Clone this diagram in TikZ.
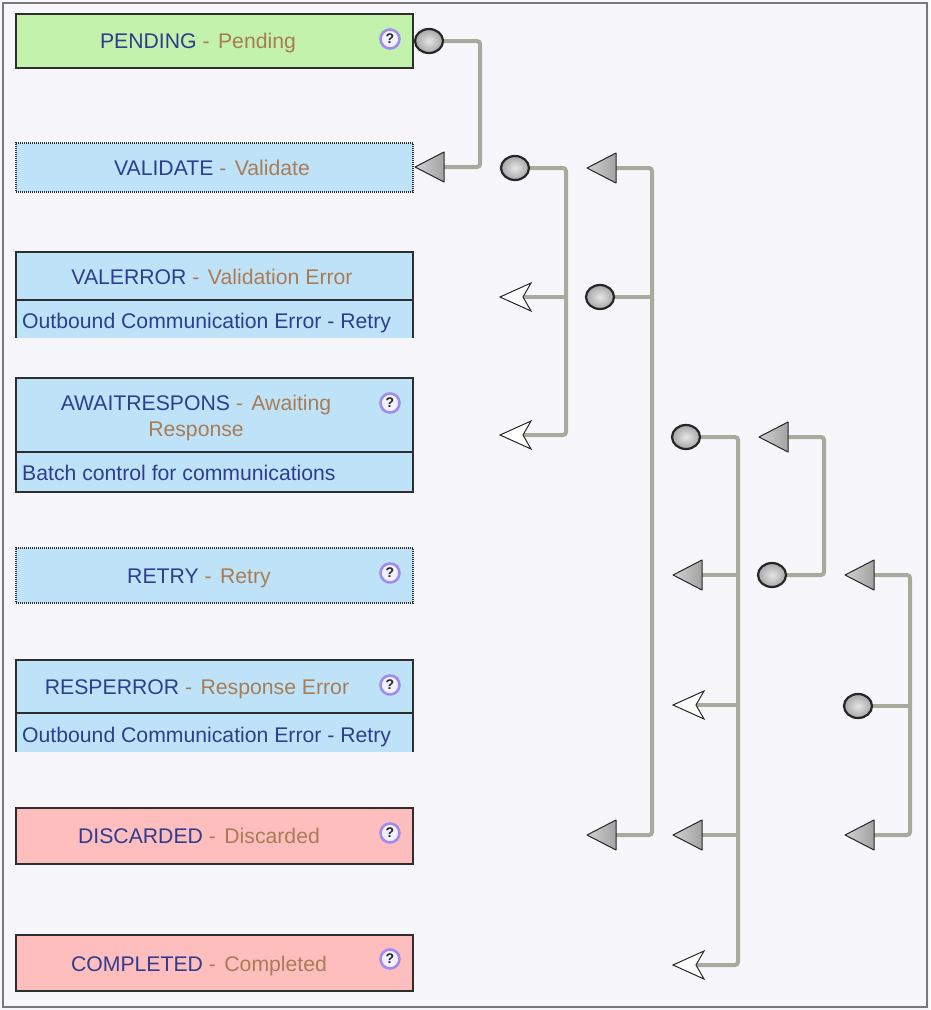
\documentclass[tikz,border=0pt]{standalone}
\usepackage{fontspec}
\setmainfont{Liberation Sans}
\usetikzlibrary{shapes.geometric}
\definecolor{bgc}{HTML}{F7F7FB}
\definecolor{framec}{HTML}{787878}
\definecolor{greenf}{HTML}{C2F2AC}
\definecolor{bluef}{HTML}{BEE3F8}
\definecolor{pinkf}{HTML}{FFBEBE}
\definecolor{boxline}{HTML}{2E2E2E}
\definecolor{idc}{HTML}{2E3D8F}
\definecolor{namec}{HTML}{A97C55}
\definecolor{connc}{HTML}{A9A99C}
\definecolor{helpc}{HTML}{A08CF0}
\definecolor{helpf}{HTML}{F4F1FF}
\definecolor{mkline}{HTML}{262626}
\pgfdeclarelayer{bg}
\pgfdeclarelayer{lines}
\pgfsetlayers{bg,lines,main}
\newcommand{\stname}[2]{{\color{idc}#1} {\color{namec}-\hspace{8.5pt}#2}}
\tikzset{
  hdr/.style={rectangle, minimum width=397pt, inner sep=0pt, draw=boxline, line width=2.2pt},
  dotbox/.style={rectangle, minimum width=397pt, inner sep=0pt, draw=boxline, line width=1.2pt, dash pattern=on 1pt off 1pt},
  rowbox/.style={rectangle, minimum width=397pt, inner sep=0pt},
  boxside/.style={draw=boxline, line width=2.2pt},
  txt/.style={inner sep=0pt, anchor=base, font=\fontsize{21.2}{26}\selectfont},
  dtxt/.style={inner sep=0pt, anchor=base west, text=idc, font=\fontsize{21.2}{26}\selectfont},
  helpicon/.style={circle, minimum size=19pt, inner sep=0pt, draw=helpc, line width=2.6pt, fill=helpf, text=black!85, font=\bfseries\fontsize{14}{14}\selectfont},
  conn/.style={draw=connc, line width=4pt, rounded corners=3pt},
  srcmk/.style={ellipse, minimum width=28pt, minimum height=24pt, inner sep=0pt, draw=mkline, line width=2.2pt, inner color=gray!20, outer color=gray!70},
  tgtmk/.style={rectangle, minimum width=32pt, minimum height=32pt, inner sep=0pt,
    path picture={\shadedraw[left color=gray!35, right color=gray!75, draw=mkline, line width=1pt, line join=round]
      ([xshift=-15pt]path picture bounding box.center) -- ([xshift=14pt,yshift=15pt]path picture bounding box.center) -- ([xshift=14pt,yshift=-15pt]path picture bounding box.center) -- cycle;}},
  openmk/.style={rectangle, minimum width=34pt, minimum height=32pt, inner sep=0pt,
    path picture={\filldraw[fill=white, draw=mkline, line width=1pt, line join=miter]
      ([xshift=-16pt]path picture bounding box.center) -- ([xshift=15pt,yshift=14pt]path picture bounding box.center) -- ([xshift=7pt]path picture bounding box.center) -- ([xshift=15pt,yshift=-14pt]path picture bounding box.center) -- cycle;}}
}
\begin{document}
\begin{tikzpicture}[x=1pt,y=-1pt]
\useasboundingbox (0,0) rectangle (930,1010);
\begin{pgfonlayer}{bg}
  \fill[bgc] (0,0) rectangle (930,1010);
  \draw[framec, line width=2.5pt] (3,3) rectangle (927,1007);
\end{pgfonlayer}

% ---- state boxes ----
\node[hdr, fill=greenf, minimum height=54pt] (pending) at (214.5,41) {};
\node[txt] (pending-t) at (198,48.5) {\stname{PENDING}{Pending}};
\node[helpicon] (pending-h) at (390,39) {?};

\node[dotbox, fill=bluef, minimum height=49pt] (validate) at (214.5,167.5) {};
\node[txt] (validate-t) at (212,175.5) {\stname{VALIDATE}{Validate}};

\node[rowbox, fill=bluef, minimum height=38pt] (valerror-r) at (214.5,319) {};
\draw[boxside] (valerror-r.south west) -- (valerror-r.north west);
\draw[boxside] (valerror-r.south east) -- (valerror-r.north east);
\node[hdr, fill=bluef, minimum height=48pt] (valerror) at (214.5,276) {};
\node[txt] (valerror-t) at (212,284.5) {\stname{VALERROR}{Validation Error}};
\node[dtxt] (valerror-d) at (22,328.5) {Outbound Communication Error - Retry};

\node[hdr, fill=bluef, minimum height=40pt] (await-r) at (214.5,472) {};
\node[hdr, fill=bluef, minimum height=74pt] (await) at (214.5,415) {};
\node[txt, align=center, anchor=center] (await-t) at (196,418) {\stname{AWAITRESPONS}{Awaiting}\\\color{namec}Response};
\node[helpicon] (await-h) at (390,403) {?};
\node[dtxt] (await-d) at (22,480.5) {Batch control for communications};

\node[dotbox, fill=bluef, minimum height=55pt] (retry) at (214.5,575.5) {};
\node[txt] (retry-t) at (199,583.5) {\stname{RETRY}{Retry}};
\node[helpicon] (retry-h) at (390,573) {?};

\node[rowbox, fill=bluef, minimum height=39pt] (resperror-r) at (214.5,732.5) {};
\draw[boxside] (resperror-r.south west) -- (resperror-r.north west);
\draw[boxside] (resperror-r.south east) -- (resperror-r.north east);
\node[hdr, fill=bluef, minimum height=53pt] (resperror) at (214.5,686.5) {};
\node[txt] (resperror-t) at (197,694.5) {\stname{RESPERROR}{Response Error}};
\node[helpicon] (resperror-h) at (390,685) {?};
\node[dtxt] (resperror-d) at (22,742.5) {Outbound Communication Error - Retry};

\node[hdr, fill=pinkf, minimum height=56pt] (discarded) at (214.5,836) {};
\node[txt] (discarded-t) at (199,843.5) {\stname{DISCARDED}{Discarded}};
\node[helpicon] (discarded-h) at (390,833) {?};

\node[hdr, fill=pinkf, minimum height=56pt] (completed) at (214.5,963) {};
\node[txt] (completed-t) at (199,971.5) {\stname{COMPLETED}{Completed}};
\node[helpicon] (completed-h) at (390,959) {?};

% ---- transition markers ----
\node[srcmk] (cA) at (429,41) {};
\node[tgtmk] (tA) at (430,167) {};
\coordinate (busA) at (480,100);

\node[srcmk] (cB) at (515,168) {};
\node[openmk] (oB1) at (516,297) {};
\node[openmk] (oB2) at (516,435) {};
\coordinate (busB) at (566,300);

\node[tgtmk] (tC1) at (602,168) {};
\node[srcmk] (cC) at (600,297) {};
\node[tgtmk] (tC2) at (602,835) {};
\coordinate (busC) at (652,500);

\node[srcmk] (cD) at (686,437) {};
\node[tgtmk] (tD1) at (688,575) {};
\node[openmk] (oD1) at (689,705) {};
\node[tgtmk] (tD2) at (688,835) {};
\node[openmk] (oD2) at (689,965) {};
\coordinate (busD) at (738,700);

\node[tgtmk] (tE1) at (774,437) {};
\node[srcmk] (cE) at (772,575) {};
\coordinate (busE) at (824,500);

\node[tgtmk] (tF1) at (860,575) {};
\node[srcmk] (cF) at (858,706) {};
\node[tgtmk] (tF2) at (860,835) {};
\coordinate (busF) at (910,700);

% ---- connectors ----
\begin{pgfonlayer}{lines}
  \draw[conn] (cA.center) -- (cA.center -| busA) -- (tA.center -| busA) -- (tA.center);
  \draw[conn] (cB.center) -- (cB.center -| busB) -- (oB2.center -| busB) -- (oB2.center);
  \draw[conn] (oB1.center) -- (oB1.center -| busB);
  \draw[conn] (tC1.center) -- (tC1.center -| busC) -- (tC2.center -| busC) -- (tC2.center);
  \draw[conn] (cC.center) -- (cC.center -| busC);
  \draw[conn] (cD.center) -- (cD.center -| busD) -- (oD2.center -| busD) -- (oD2.center);
  \draw[conn] (tD1.center) -- (tD1.center -| busD);
  \draw[conn] (oD1.center) -- (oD1.center -| busD);
  \draw[conn] (tD2.center) -- (tD2.center -| busD);
  \draw[conn] (tE1.center) -- (tE1.center -| busE) -- (cE.center -| busE) -- (cE.center);
  \draw[conn] (tF1.center) -- (tF1.center -| busF) -- (tF2.center -| busF) -- (tF2.center);
  \draw[conn] (cF.center) -- (cF.center -| busF);
\end{pgfonlayer}
\end{tikzpicture}
\end{document}
